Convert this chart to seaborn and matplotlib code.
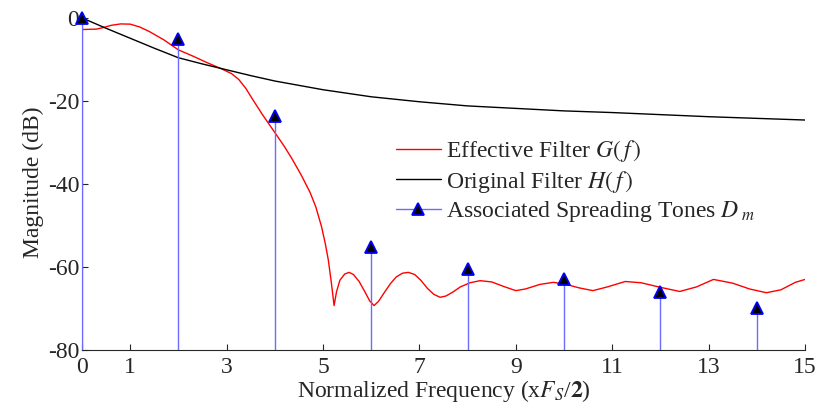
import numpy as np
import pandas as pd
import matplotlib
matplotlib.use("Agg")
import matplotlib.pyplot as plt
import seaborn as sns
from matplotlib.lines import Line2D
from matplotlib.legend_handler import HandlerLine2D

# ---- data ----
g_freq = [0.0, 0.3, 0.45, 0.6, 0.8, 1.0, 1.2, 1.4, 1.7, 2.0, 2.3, 2.6, 2.9,
          3.1, 3.25, 3.4, 3.55, 3.75, 4.0, 4.2, 4.35, 4.55, 4.73, 4.85, 4.97,
          5.05, 5.11, 5.17, 5.23, 5.28, 5.35, 5.45, 5.54, 5.63, 5.75, 5.87,
          5.97, 6.06, 6.15, 6.27, 6.4, 6.52, 6.65, 6.77, 6.9, 7.03, 7.17, 7.3,
          7.43, 7.55, 7.7, 7.85, 8.05, 8.26, 8.5, 8.75, 9.0, 9.2, 9.5, 9.78,
          10.05, 10.3, 10.6, 10.9, 11.27, 11.6, 12.0, 12.4, 12.75, 13.1, 13.5,
          13.85, 14.2, 14.5, 14.8, 15.0]
g_mag = [-2.8, -2.7, -2.3, -1.8, -1.45, -1.5, -2.2, -3.3, -5.3, -7.7, -9.2,
         -10.8, -12.3, -13.4, -14.8, -17.0, -19.8, -23.4, -27.6, -31.0, -33.8,
         -37.9, -42.0, -45.5, -50.3, -54.5, -58.3, -63.5, -69.3, -66.0, -63.2,
         -61.7, -61.3, -61.8, -63.5, -66.0, -68.2, -69.3, -68.3, -66.2, -64.0,
         -62.4, -61.5, -61.3, -61.8, -63.2, -65.2, -66.6, -67.3, -67.0, -66.0,
         -64.8, -63.8, -63.3, -63.6, -64.7, -65.7, -65.3, -64.2, -63.7, -64.2,
         -65.0, -65.7, -64.8, -63.5, -63.8, -64.9, -65.9, -64.8, -63.0, -63.9,
         -65.3, -66.2, -65.5, -63.7, -63.0]

h_freq = [0, 0.5, 1, 1.5, 2, 2.5, 3, 3.5, 4, 5, 6, 7, 8, 9, 10, 11, 12, 13, 14, 15]
h_mag = [0.0, -2.5, -4.9, -7.3, -9.6, -11.1, -12.5, -13.9, -15.2, -17.3, -19.0,
         -20.2, -21.2, -21.8, -22.4, -22.8, -23.3, -23.8, -24.2, -24.6]

tone_freq = [0, 2, 4, 6, 8, 10, 12, 14]
tone_mag = [0.0, -5.0, -23.6, -55.2, -60.6, -63.0, -66.0, -70.0]

x_ticks = [0, 1, 3, 5, 7, 9, 11, 13, 15]
y_ticks = [-80, -60, -40, -20, 0]

# ---- style ----
sns.set_style("ticks")
plt.rcParams["font.family"] = ["Liberation Serif", "DejaVu Serif"]
plt.rcParams["mathtext.fontset"] = "stix"
plt.rcParams["axes.unicode_minus"] = False
plt.rcParams["xtick.direction"] = "in"
plt.rcParams["ytick.direction"] = "in"

fig = plt.figure(figsize=(8.2, 4.16), dpi=100)
ax = fig.add_axes([82 / 820, 1 - 350 / 416, (805 - 82) / 820, (350 - 15) / 416])

dfg = pd.DataFrame({"f": g_freq, "m": g_mag})
dfh = pd.DataFrame({"f": h_freq, "m": h_mag})

sns.lineplot(data=dfg, x="f", y="m", color="red", lw=1.0, ax=ax, sort=False,
             legend=False)
sns.lineplot(data=dfh, x="f", y="m", color="black", lw=1.0, ax=ax, sort=False,
             legend=False)

stem_color = (0.42, 0.42, 1.0)
ax.vlines(tone_freq, -80, tone_mag, colors=stem_color, lw=1.0, zorder=3)
ax.plot(tone_freq, tone_mag, ls="none", marker="^", ms=9, mfc="black",
        mec="blue", mew=1.3, zorder=4, clip_on=False)

ax.set_xlim(0, 15)
ax.set_ylim(-80, 0.7)
ax.set_xticks(x_ticks)
ax.set_yticks(y_ticks)
ax.tick_params(labelsize=17, length=4, width=0.8)
ax.tick_params(axis="x", pad=5)
ax.tick_params(axis="y", pad=2)
for s in ["top", "right"]:
    ax.spines[s].set_visible(False)
ax.spines["left"].set_linewidth(0.8)
ax.spines["bottom"].set_linewidth(0.8)

ax.set_xlabel(r"Normalized Frequency (x$F_S$/$\mathbf{2}$)", fontsize=17, labelpad=0)
ax.set_ylabel("Magnitude (dB)", fontsize=17, labelpad=3)


class RightMarkerHandler(HandlerLine2D):
    def create_artists(self, legend, orig_handle, xdescent, ydescent, width,
                       height, fontsize, trans):
        arts = super().create_artists(legend, orig_handle, xdescent, ydescent,
                                      width, height, fontsize, trans)
        if len(arts) > 1:
            arts[1].set_xdata([-xdescent + width * 0.73])
        return arts


handles = [
    Line2D([0], [0], color="red", lw=1.0),
    Line2D([0], [0], color="black", lw=1.0),
    Line2D([0], [0], color=stem_color, lw=1.0, marker="^", ms=9, mfc="black",
           mec="blue", mew=1.3),
]
labels = [r"Effective Filter $G(\,f\,)$", r"Original Filter $H(\,f\,)$",
          r"Associated Spreading Tones $D_{\ m}$"]
fig.legend(handles, labels, loc="upper left",
           bbox_to_anchor=(396 / 820, 1 - 138 / 416), frameon=False,
           fontsize=17, handlelength=1.9, handletextpad=0.2, borderpad=0,
           borderaxespad=0, labelspacing=0.2, numpoints=1,
           handler_map={handles[2]: RightMarkerHandler(numpoints=1)})

fig.savefig("out.png", dpi=100)
